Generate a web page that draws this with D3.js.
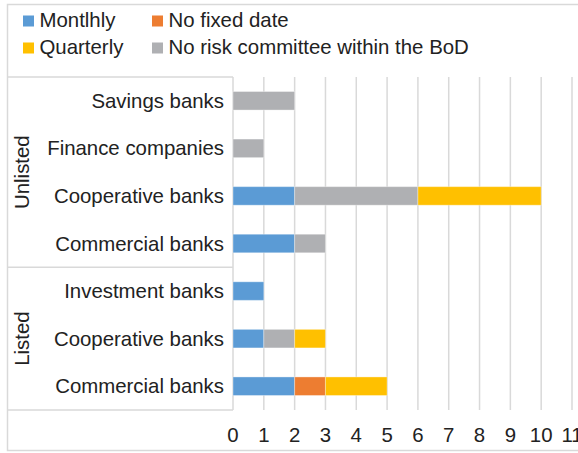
<!DOCTYPE html>
<html>
<head>
<meta charset="utf-8">
<script src="https://cdn.jsdelivr.net/npm/d3@7"></script>
<style>
  html, body { margin: 0; padding: 0; background: #fff; }
  svg { display: block; }
  text { font-family: "Liberation Sans", Arial, Helvetica, sans-serif; fill: #222; }
</style>
</head>
<body>
<svg id="chart" width="578" height="453"></svg>
<script>
// Rows, top to bottom, with the group each one belongs to
const categories = ["Savings banks", "Finance companies", "Cooperative banks", "Commercial banks",
                    "Investment banks", "Cooperative banks", "Commercial banks"];
const groups = ["Unlisted", "Unlisted", "Unlisted", "Unlisted", "Listed", "Listed", "Listed"];

// Number of institutions per reporting frequency (stacked in this order)
const seriesNames = ["Montlhly", "No fixed date", "No risk committee within the BoD", "Quarterly"];
const monthly   = [0, 0, 2, 2, 1, 1, 2];
const noFixed   = [0, 0, 0, 0, 0, 0, 1];
const noRisk    = [2, 1, 4, 1, 0, 1, 0];
const quarterly = [0, 0, 4, 0, 0, 1, 2];
const seriesColors = ["#5b9bd5", "#ed7d31", "#afb0b3", "#ffc000"];

// Legend order (two rows of two)
const legendOrder = ["Montlhly", "No fixed date", "Quarterly", "No risk committee within the BoD"];

const xTicks = [0, 1, 2, 3, 4, 5, 6, 7, 8, 9, 10, 11];

const svg = d3.select("#chart");
const gridColor = "#d9d9d9";
const fontSize = 20.4;

const plot = { left: 233, right: 572, top: 77, bottom: 410 };

// Outer chart frame
svg.append("rect")
  .attr("x", 7.5).attr("y", 4.5)
  .attr("width", 600).attr("height", 446)
  .attr("fill", "none").attr("stroke", gridColor).attr("stroke-width", 1.5);

const x = d3.scaleLinear().domain([0, 11]).range([plot.left, plot.right]);
const rowIds = categories.map((c, i) => i);
const y = d3.scaleBand().domain(rowIds).range([plot.top, plot.bottom])
  .paddingInner(0.61).paddingOuter(0.305);
const step = y.step();

// Vertical gridlines
svg.append("g").selectAll("line").data(xTicks).join("line")
  .attr("x1", d => x(d)).attr("x2", d => x(d))
  .attr("y1", plot.top).attr("y2", plot.bottom)
  .attr("stroke", gridColor).attr("stroke-width", 1.5);

// Category-axis frame: boundaries of the group blocks
const groupNames = Array.from(new Set(groups));
const groupSpans = groupNames.map(g => {
  const idx = rowIds.filter(i => groups[i] === g);
  const y0 = y(idx[0]) - (step - y.bandwidth()) / 2;
  const y1 = y(idx[idx.length - 1]) + y.bandwidth() + (step - y.bandwidth()) / 2;
  return { name: g, y0, y1 };
});
const boundaries = [plot.top, ...groupSpans.map(s => s.y1)];
svg.append("g").selectAll("line").data(boundaries).join("line")
  .attr("x1", 7).attr("x2", plot.left)
  .attr("y1", d => d).attr("y2", d => d)
  .attr("stroke", gridColor).attr("stroke-width", 1.5);

// Stacked bars
const table = rowIds.map(i => ({
  row: i,
  "Montlhly": monthly[i],
  "No fixed date": noFixed[i],
  "No risk committee within the BoD": noRisk[i],
  "Quarterly": quarterly[i]
}));
const stacked = d3.stack().keys(seriesNames)(table);
const color = d3.scaleOrdinal().domain(seriesNames).range(seriesColors);

svg.append("g").selectAll("g").data(stacked).join("g")
  .attr("fill", d => color(d.key))
  .selectAll("rect").data(d => d.filter(p => p[1] - p[0] > 0)).join("rect")
  .attr("x", d => x(d[0]))
  .attr("width", d => x(d[1]) - x(d[0]))
  .attr("y", d => y(d.data.row))
  .attr("height", y.bandwidth())
  .attr("stroke", "rgba(255,255,255,0.35)").attr("stroke-width", 1);

// Category labels
svg.append("g").selectAll("text").data(rowIds).join("text")
  .attr("x", plot.left - 9)
  .attr("y", d => y(d) + y.bandwidth() / 2)
  .attr("dy", "0.35em")
  .attr("text-anchor", "end")
  .attr("font-size", fontSize)
  .text(d => categories[d]);

// Group labels, rotated
svg.append("g").selectAll("text").data(groupSpans).join("text")
  .attr("transform", d => `translate(${29},${(d.y0 + d.y1) / 2}) rotate(-90)`)
  .attr("text-anchor", "middle")
  .attr("font-size", fontSize)
  .text(d => d.name);

// Value axis tick labels
svg.append("g").selectAll("text").data(xTicks).join("text")
  .attr("x", d => x(d))
  .attr("y", 442)
  .attr("text-anchor", "middle")
  .attr("font-size", fontSize)
  .text(d => d);

// Legend
const legendCols = [23, 152];
const legendRows = [27, 54];
const legend = svg.append("g").selectAll("g").data(legendOrder).join("g")
  .attr("transform", (d, i) => `translate(${legendCols[i % 2]},${legendRows[Math.floor(i / 2)]})`);
legend.append("rect")
  .attr("x", 0).attr("y", -11.5).attr("width", 11).attr("height", 11)
  .attr("fill", d => color(d));
legend.append("text")
  .attr("x", 16.5).attr("y", 0)
  .attr("font-size", fontSize)
  .text(d => d);
</script>
</body>
</html>
